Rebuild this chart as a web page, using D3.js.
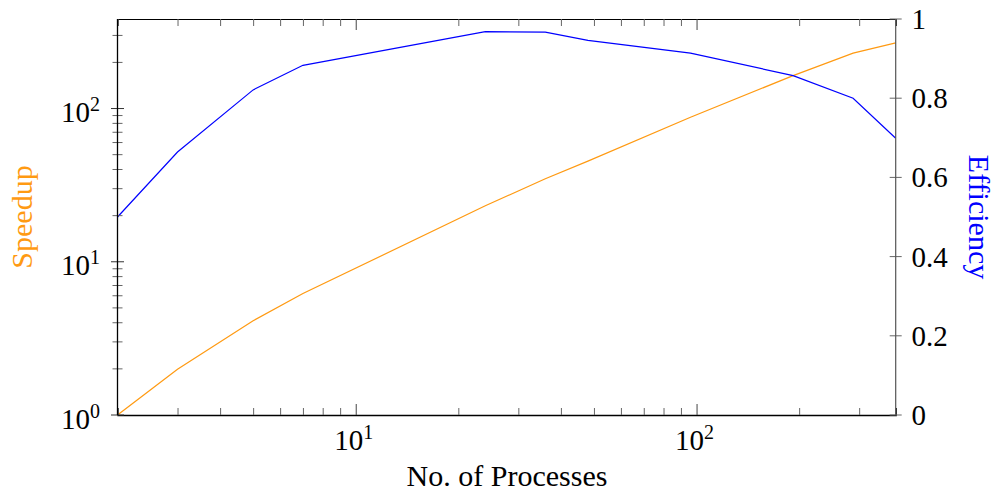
<!DOCTYPE html>
<html>
<head>
<meta charset="utf-8">
<script src="https://cdn.jsdelivr.net/npm/d3@7"></script>
<style>
  body { margin: 0; background: #fff; }
  text { font-family: "Liberation Serif", "DejaVu Serif", serif; }
</style>
</head>
<body>
<div id="chart"></div>
<script>
// Data
const procs = [2, 3, 5, 7, 24, 36, 48, 96, 192, 288, 384];
const speedup = [1, 1.99, 4.12, 6.2, 23.2, 34.8, 45.4, 87.7, 164, 230, 268];
const efficiency = [0.50, 0.664, 0.821, 0.883, 0.968, 0.967, 0.946, 0.914, 0.857, 0.800, 0.699];
const leftTicks = [1, 10, 100];
const bottomTicks = [10, 100];
const rightTicks = [0, 0.2, 0.4, 0.6, 0.8, 1];

const width = 1000, height = 493;
const plot = { left: 117.5, right: 895.7, top: 19, bottom: 415 };
const orange = "#ff9a12", blue = "#0000ff";

const svg = d3.select("#chart").append("svg")
    .attr("width", width)
    .attr("height", height);

// Scales
const x = d3.scaleLog().domain([2, 384]).range([plot.left, plot.right]);
const yL = d3.scaleLog().domain([1, 384]).range([plot.bottom, plot.top]);
const yR = d3.scaleLinear().domain([0, 1]).range([plot.bottom, plot.top]);

// minor ticks for log axes
function minors(scale) {
    const [a, b] = scale.domain();
    const out = [];
    for (let k = 1; k <= 1000; k *= 10)
        for (let m = 2; m <= 9; m++) {
            const v = k * m;
            if (v >= a && v <= b) out.push(v);
        }
    return out;
}

// Lines
const lineS = d3.line().x((d, i) => x(procs[i])).y(d => yL(d));
const lineE = d3.line().x((d, i) => x(procs[i])).y(d => yR(d));

svg.append("path").datum(speedup)
    .attr("fill", "none").attr("stroke", orange).attr("stroke-width", 1.2)
    .attr("d", lineS);
svg.append("path").datum(efficiency)
    .attr("fill", "none").attr("stroke", blue).attr("stroke-width", 1.2)
    .attr("d", lineE);

// Bottom axis (ticks inward)
const bottomAxis = svg.append("g").attr("transform", `translate(0,${plot.bottom})`);
bottomAxis.call(d3.axisBottom(x).tickValues(minors(x)).tickSize(-7).tickFormat(""));
bottomAxis.selectAll(".tick line").attr("stroke", "#666");
const bottomMajor = svg.append("g").attr("transform", `translate(0,${plot.bottom})`)
    .call(d3.axisBottom(x).tickValues(bottomTicks).tickSize(-11).tickFormat(""));
bottomMajor.select(".domain").remove();
bottomMajor.selectAll(".tick line").attr("stroke", "#444");
bottomAxis.select(".domain").attr("stroke", "#000").attr("stroke-width", 1.3);

// Top frame (ticks inward)
const topAxis = svg.append("g").attr("transform", `translate(0,${plot.top})`);
topAxis.call(d3.axisTop(x).tickValues(minors(x)).tickSize(-7).tickFormat(""));
topAxis.selectAll(".tick line").attr("stroke", "#666");
const topMajor = svg.append("g").attr("transform", `translate(0,${plot.top})`)
    .call(d3.axisTop(x).tickValues(bottomTicks).tickSize(-11).tickFormat(""));
topMajor.select(".domain").remove();
topMajor.selectAll(".tick line").attr("stroke", "#444");
topAxis.select(".domain").attr("stroke", "#000").attr("stroke-width", 1.2);

// Left axis (ticks cross the line)
const leftAxis = svg.append("g");
leftAxis.selectAll(".minor").data(minors(yL)).enter().append("line")
    .attr("x1", plot.left - 5).attr("x2", plot.left + 5)
    .attr("y1", d => yL(d)).attr("y2", d => yL(d))
    .attr("stroke", "#666");
leftAxis.selectAll(".major").data(leftTicks).enter().append("line")
    .attr("x1", plot.left - 6.5).attr("x2", plot.left + 6.5)
    .attr("y1", d => yL(d)).attr("y2", d => yL(d))
    .attr("stroke", "#333");
leftAxis.append("line")
    .attr("x1", plot.left).attr("x2", plot.left)
    .attr("y1", plot.top).attr("y2", plot.bottom)
    .attr("stroke", "#000").attr("stroke-width", 1.3);

// Right axis (ticks cross the line)
const rightAxis = svg.append("g");
rightAxis.selectAll(".rtick").data(rightTicks).enter().append("line")
    .attr("x1", plot.right - 6).attr("x2", plot.right + 6)
    .attr("y1", d => yR(d)).attr("y2", d => yR(d))
    .attr("stroke", "#666");
rightAxis.append("line")
    .attr("x1", plot.right).attr("x2", plot.right)
    .attr("y1", plot.top).attr("y2", plot.bottom)
    .attr("stroke", "#555").attr("stroke-width", 1.2);

// Power-of-ten label helper
function pow10(sel, v) {
    const e = Math.round(Math.log10(v));
    sel.append("tspan").text("10");
    sel.append("tspan").attr("dy", -11).attr("font-size", 20).text(e);
}

svg.selectAll(".ylab").data(leftTicks).enter().append("text")
    .attr("x", 100).attr("y", d => yL(d) + 13.5)
    .attr("text-anchor", "end").attr("font-size", 29)
    .each(function (d) { pow10(d3.select(this), d); });

svg.selectAll(".xlab").data(bottomTicks).enter().append("text")
    .attr("x", d => x(d) - 2).attr("y", 450)
    .attr("text-anchor", "middle").attr("font-size", 29)
    .each(function (d) { pow10(d3.select(this), d); });

svg.selectAll(".rlab").data(rightTicks).enter().append("text")
    .attr("x", 911.5).attr("y", d => yR(d) + 10)
    .attr("font-size", 29)
    .text(d => d3.format("~g")(d));

// Axis titles
svg.append("text")
    .attr("x", 507).attr("y", 485.5)
    .attr("text-anchor", "middle").attr("font-size", 30)
    .text("No. of Processes");

svg.append("text")
    .attr("transform", "translate(32,217) rotate(-90)")
    .attr("text-anchor", "middle").attr("font-size", 30)
    .attr("fill", orange)
    .text("Speedup");

svg.append("text")
    .attr("transform", "translate(969,217) rotate(90)")
    .attr("text-anchor", "middle").attr("font-size", 30)
    .attr("fill", blue)
    .text("Efficiency");
</script>
</body>
</html>
